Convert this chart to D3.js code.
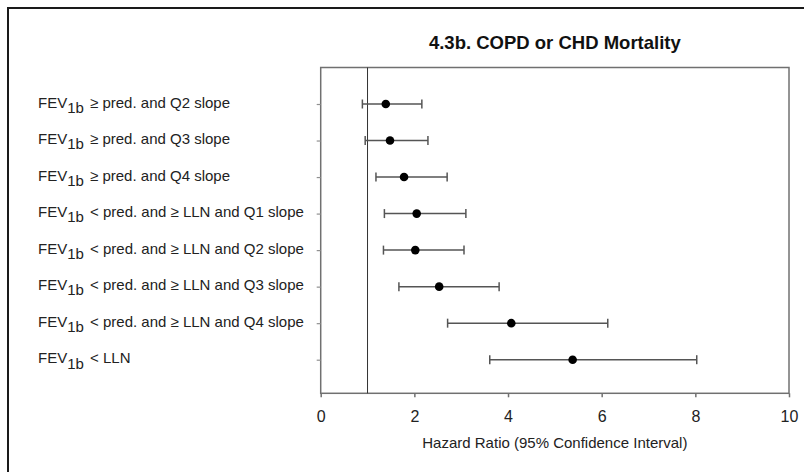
<!DOCTYPE html>
<html>
<head>
<meta charset="utf-8">
<script src="https://cdn.jsdelivr.net/npm/d3@7"></script>
<style>
  html, body { margin: 0; padding: 0; background: #fff; }
  svg { display: block; font-family: "Liberation Sans", Arial, sans-serif; }
</style>
</head>
<body>
<svg id="chart" width="804" height="472"></svg>
<script>
// Data
const categories = [
  "\u2265 pred. and Q2 slope",
  "\u2265 pred. and Q3 slope",
  "\u2265 pred. and Q4 slope",
  "< pred. and \u2265 LLN and Q1 slope",
  "< pred. and \u2265 LLN and Q2 slope",
  "< pred. and \u2265 LLN and Q3 slope",
  "< pred. and \u2265 LLN and Q4 slope",
  "< LLN"
];
const hazardRatio = [1.39, 1.48, 1.78, 2.05, 2.02, 2.53, 4.07, 5.38];
const ciLower     = [0.89, 0.95, 1.18, 1.36, 1.34, 1.67, 2.71, 3.61];
const ciUpper     = [2.16, 2.29, 2.70, 3.10, 3.06, 3.81, 6.13, 8.03];
const xTicks = [0, 2, 4, 6, 8, 10];
const referenceValue = 1;
const titleText = "4.3b. COPD or CHD Mortality";
const xLabel = "Hazard Ratio (95% Confidence Interval)";

const svg = d3.select("#chart");

// outer frame (only top/left visible in view)
svg.append("rect")
  .attr("x", 8).attr("y", 8).attr("width", 900).attr("height", 600)
  .attr("fill", "none").attr("stroke", "#1a1a1a").attr("stroke-width", 2);

const box = {left: 320.7, right: 789, top: 67.5, bottom: 393.3};

const x = d3.scaleLinear().domain([0, 10]).range([box.left, box.right]);
const y = d3.scalePoint().domain(categories).range([104, 359.7]);

// Title
svg.append("text")
  .attr("x", (box.left + box.right) / 2).attr("y", 48.5)
  .attr("text-anchor", "middle")
  .attr("font-size", 18.5).attr("font-weight", "bold").attr("fill", "#111")
  .text(titleText);

// Plot box
svg.append("rect")
  .attr("x", box.left).attr("y", box.top)
  .attr("width", box.right - box.left).attr("height", box.bottom - box.top)
  .attr("fill", "none").attr("stroke", "#707070").attr("stroke-width", 1.5);

// x axis
const xAxis = svg.append("g")
  .attr("transform", `translate(0,${box.bottom})`)
  .call(d3.axisBottom(x).tickValues(xTicks).tickSize(4).tickPadding(13).tickFormat(d3.format("d")));
xAxis.select(".domain").remove();
xAxis.selectAll(".tick line").attr("stroke", "#707070").attr("stroke-width", 1.5);
xAxis.selectAll(".tick text").attr("font-size", 16).attr("fill", "#222")
  .attr("font-family", "Liberation Sans, Arial, sans-serif");

// y ticks
const yAxis = svg.append("g")
  .attr("transform", `translate(${box.left},0)`)
  .call(d3.axisLeft(y).tickSize(4).tickFormat(""));
yAxis.select(".domain").remove();
yAxis.selectAll(".tick line").attr("stroke", "#909090").attr("stroke-width", 1.2);

// Category labels with subscript
const labels = svg.append("g");
categories.forEach((c) => {
  const t = labels.append("text")
    .attr("x", 38).attr("y", y(c) + 3.5)
    .attr("font-size", 15).attr("fill", "#222");
  t.append("tspan").text("FEV");
  t.append("tspan").attr("dy", 5.3).text("1b");
  t.append("tspan").attr("dy", -5.3).attr("dx", 2).text(" " + c);
});

// x axis label
svg.append("text")
  .attr("x", (box.left + box.right) / 2).attr("y", 448)
  .attr("text-anchor", "middle")
  .attr("font-size", 15).attr("fill", "#222")
  .text(xLabel);

// Reference line
svg.append("line")
  .attr("x1", x(referenceValue)).attr("x2", x(referenceValue))
  .attr("y1", box.top).attr("y2", box.bottom)
  .attr("stroke", "#333").attr("stroke-width", 1);

// Error bars
const rows = categories.map((c, i) => ({c, hr: hazardRatio[i], lo: ciLower[i], hi: ciUpper[i]}));
const g = svg.append("g");
const capH = 4.5;
g.selectAll(".ci").data(rows).join("line")
  .attr("x1", d => x(d.lo)).attr("x2", d => x(d.hi))
  .attr("y1", d => y(d.c)).attr("y2", d => y(d.c))
  .attr("stroke", "#555").attr("stroke-width", 1.5);
g.selectAll(".capL").data(rows).join("line")
  .attr("x1", d => x(d.lo)).attr("x2", d => x(d.lo))
  .attr("y1", d => y(d.c) - capH).attr("y2", d => y(d.c) + capH)
  .attr("stroke", "#555").attr("stroke-width", 1.5);
g.selectAll(".capR").data(rows).join("line")
  .attr("x1", d => x(d.hi)).attr("x2", d => x(d.hi))
  .attr("y1", d => y(d.c) - capH).attr("y2", d => y(d.c) + capH)
  .attr("stroke", "#555").attr("stroke-width", 1.5);
g.selectAll("circle").data(rows).join("circle")
  .attr("cx", d => x(d.hr)).attr("cy", d => y(d.c)).attr("r", 4.3)
  .attr("fill", "#000");
</script>
</body>
</html>
